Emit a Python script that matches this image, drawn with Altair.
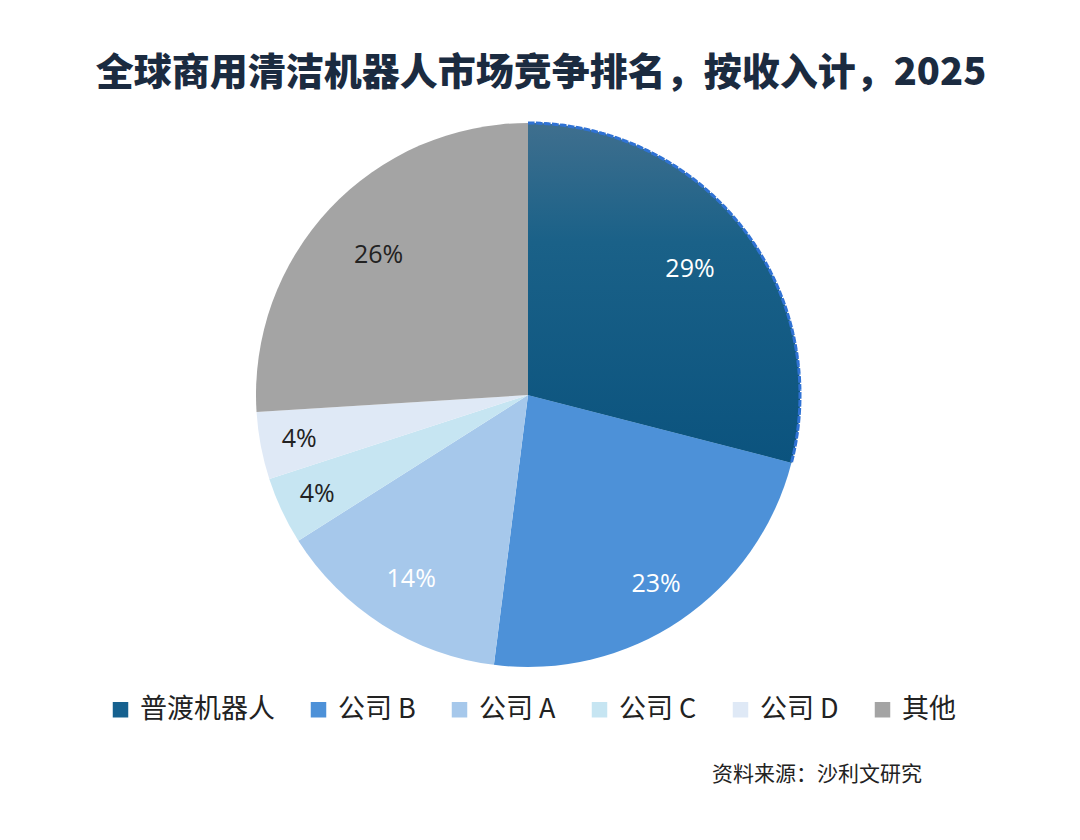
import altair as alt
import pandas as pd

companies = ["普渡机器人", "公司 B", "公司 A", "公司 C", "公司 D", "其他"]
shares = [29, 23, 14, 4, 4, 26]
colors = ["#16618f", "#4d91d8", "#a6c8eb", "#c6e5f2", "#dfe9f6", "#a4a4a4"]

title_text = "全球商用清洁机器人市场竞争排名，按收入计，2025"
source_text = "资料来源：沙利文研究"

df = pd.DataFrame({"company": companies, "share": shares})

theta_scale = alt.Scale(domain=[0, 100])

base = (
    alt.Chart(df)
    .transform_window(idx="row_number()")
    .transform_window(end="sum(share)", sort=[alt.SortField("idx")], frame=[None, 0])
    .transform_calculate(
        start="datum.end - datum.share",
        mid="datum.end - datum.share / 2",
        label="datum.share + '%'",
        r="datum.share < 10 ? 233 : (datum.share < 20 ? 218 : (datum.share < 25 ? 228 : 205))",
    )
)

legend = alt.Legend(
    orient="none", legendX=99, legendY=688, direction="horizontal", columns=6,
    title=None, symbolType="square", symbolSize=240, symbolStrokeWidth=0,
    labelFontSize=27, labelFont="Noto Sans CJK SC", labelColor="#222222",
    columnPadding=30, labelOffset=6,
)

arcs = base.mark_arc(outerRadius=272).encode(
    theta=alt.Theta("start:Q", scale=theta_scale, stack=None),
    theta2="end:Q",
    color=alt.Color("company:N", sort=companies,
                    scale=alt.Scale(domain=companies, range=colors), legend=legend),
)

grad = base.transform_filter("datum.idx == 1").mark_arc(
    outerRadius=272,
    fill=alt.Gradient(
        gradient="linear",
        stops=[alt.GradientStop(color="#3f6f8e", offset=0),
               alt.GradientStop(color="#1a6188", offset=0.35),
               alt.GradientStop(color="#0b537e", offset=1)],
        x1=0, y1=0, x2=0, y2=1,
    ),
).encode(
    theta=alt.Theta("start:Q", scale=theta_scale, stack=None),
    theta2="end:Q",
)

ring = base.transform_filter("datum.idx == 1").mark_arc(
    innerRadius=272, outerRadius=272, fillOpacity=0,
    stroke="#2f72d4", strokeWidth=3, strokeDash=[5, 3],
).encode(
    theta=alt.Theta("start:Q", scale=theta_scale, stack=None),
    theta2="end:Q",
)

labels = base.mark_text(font="Open Sans", fontSize=25, fontWeight=400).encode(
    theta=alt.Theta("mid:Q", scale=theta_scale, stack=None),
    radius=alt.Radius("r:Q", scale=None),
    text="label:N",
    color=alt.condition("datum.share < 10 || datum.company == '其他'",
                        alt.value("#222222"), alt.value("#ffffff")),
)

title = alt.Chart(pd.DataFrame({"t": [title_text]})).mark_text(
    font="Noto Sans CJK SC", fontSize=38, fontWeight=900, color="#1b2b40",
    align="center", baseline="middle",
).encode(x=alt.value(533), y=alt.value(66), text="t:N")

source = alt.Chart(pd.DataFrame({"t": [source_text]})).mark_text(
    font="Noto Sans CJK SC", fontSize=21, color="#222222",
    align="right", baseline="middle",
).encode(x=alt.value(914), y=alt.value(767), text="t:N")

chart = alt.layer(arcs, grad, ring, labels, title, source).properties(
    width=1040, height=774,
    autosize=alt.AutoSizeParams(type="none"),
    padding={"left": 0, "top": 0, "right": 24, "bottom": 50},
).configure_view(stroke=None)

chart.save("out.html", embed_options={"renderer": "svg", "actions": False})
